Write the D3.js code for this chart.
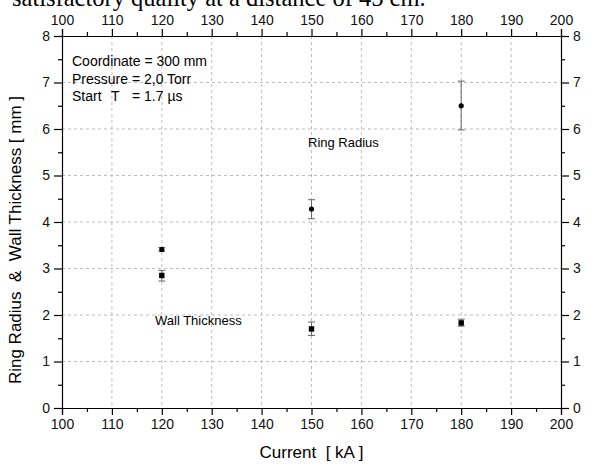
<!DOCTYPE html>
<html>
<head>
<meta charset="utf-8">
<script src="https://cdn.jsdelivr.net/npm/d3@7"></script>
<style>
  body { margin: 0; background: #fff; }
  svg text { font-family: "Liberation Sans", Arial, sans-serif; fill: #000; white-space: pre; }
</style>
</head>
<body>
<div id="chart"></div>
<script>
//Datos
const currents = [120, 150, 180];
const ringRadius = [3.41, 4.28, 6.5];
const ringLow = [3.37, 4.07, 5.98];
const ringHigh = [3.45, 4.48, 7.03];
const wallThickness = [2.85, 1.70, 1.83];
const wallLow = [2.73, 1.56, 1.76];
const wallHigh = [2.96, 1.85, 1.91];
const xTicks = [100, 110, 120, 130, 140, 150, 160, 170, 180, 190, 200];
const yTicks = [0, 1, 2, 3, 4, 5, 6, 7, 8];
const notes = ['Coordinate = 300 mm', 'Pressure = 2,0 Torr'];

const W = 592, H = 464;
let margin = {top: 36, right: 31, bottom: 56, left: 62},
    width = W - margin.left - margin.right,
    height = H - margin.top - margin.bottom;

let root = d3.select('#chart').append('svg')
    .attr('width', W)
    .attr('height', H);

//Texto recortado de la página
root.append('text')
    .attr('x', 12)
    .attr('y', 6)
    .style('font-family', '"Liberation Serif", "Times New Roman", serif')
    .style('font-size', '24.5px')
    .text('satisfactory quality at a distance of 45 cm.');

let svg = root.append('g')
    .attr('transform', 'translate(' + margin.left + ',' + margin.top + ')');

let x = d3.scaleLinear().domain([100, 200]).range([0, width]);
let y = d3.scaleLinear().domain([0, 8]).range([height, 0]);

//Rejilla
svg.append('g').selectAll('line')
    .data(xTicks.slice(1, -1))
    .enter().append('line')
    .attr('x1', d => x(d)).attr('x2', d => x(d))
    .attr('y1', 0).attr('y2', height)
    .attr('stroke', '#bdbdbd').attr('stroke-width', 1)
    .attr('stroke-dasharray', '3,3');

svg.append('g').selectAll('line')
    .data(yTicks.slice(1, -1))
    .enter().append('line')
    .attr('x1', 0).attr('x2', width)
    .attr('y1', d => y(d)).attr('y2', d => y(d))
    .attr('stroke', '#bdbdbd').attr('stroke-width', 1)
    .attr('stroke-dasharray', '3,3');

//Ejes
let xMinor = d3.range(105, 200, 10);
let yMinor = d3.range(0.5, 8, 1);

function styleAxis(g) {
    g.select('.domain').attr('stroke', '#000').attr('stroke-width', 1.2);
    g.selectAll('.tick line').attr('stroke', '#000').attr('stroke-width', 1.2);
    g.selectAll('.tick text').style('font-size', '14px').style('fill', '#111');
}
function minorAxis(g) {
    g.select('.domain').remove();
    g.selectAll('.tick text').remove();
    g.selectAll('.tick line').attr('stroke', '#000').attr('stroke-width', 1.2);
}

svg.append('g')
    .attr('transform', 'translate(0,' + height + ')')
    .call(d3.axisBottom(x).tickValues(xTicks).tickSizeOuter(0).tickSize(7).tickPadding(4))
    .call(styleAxis);
svg.append('g')
    .attr('transform', 'translate(0,' + height + ')')
    .call(d3.axisBottom(x).tickValues(xMinor).tickSize(4))
    .call(minorAxis);

svg.append('g')
    .call(d3.axisTop(x).tickValues(xTicks).tickSizeOuter(0).tickSize(7).tickPadding(4))
    .call(styleAxis);
svg.append('g')
    .call(d3.axisTop(x).tickValues(xMinor).tickSize(4))
    .call(minorAxis);

svg.append('g')
    .call(d3.axisLeft(y).tickValues(yTicks).tickSizeOuter(0).tickSize(8).tickPadding(4))
    .call(styleAxis);
svg.append('g')
    .call(d3.axisLeft(y).tickValues(yMinor).tickSize(4))
    .call(minorAxis);

svg.append('g')
    .attr('transform', 'translate(' + width + ',0)')
    .call(d3.axisRight(y).tickValues(yTicks).tickSizeOuter(0).tickSize(8).tickPadding(4))
    .call(styleAxis);
svg.append('g')
    .attr('transform', 'translate(' + width + ',0)')
    .call(d3.axisRight(y).tickValues(yMinor).tickSize(4))
    .call(minorAxis);

//Barras de error
function errorBars(lo, hi) {
    let g = svg.append('g').attr('stroke', '#666').attr('stroke-width', 1);
    currents.forEach(function(c, i) {
        g.append('line').attr('x1', x(c)).attr('x2', x(c)).attr('y1', y(lo[i])).attr('y2', y(hi[i]));
        g.append('line').attr('x1', x(c) - 3.5).attr('x2', x(c) + 3.5).attr('y1', y(lo[i])).attr('y2', y(lo[i]));
        g.append('line').attr('x1', x(c) - 3.5).attr('x2', x(c) + 3.5).attr('y1', y(hi[i])).attr('y2', y(hi[i]));
    });
}
errorBars(ringLow, ringHigh);
errorBars(wallLow, wallHigh);

//Puntos
svg.selectAll('.ring')
    .data(currents)
    .enter().append('circle')
    .attr('class', 'ring')
    .attr('cx', d => x(d))
    .attr('cy', (d, i) => y(ringRadius[i]))
    .attr('r', 2.6)
    .attr('fill', '#000');

svg.selectAll('.wall')
    .data(currents)
    .enter().append('rect')
    .attr('class', 'wall')
    .attr('x', d => x(d) - 2.7)
    .attr('y', (d, i) => y(wallThickness[i]) - 2.7)
    .attr('width', 5.4)
    .attr('height', 5.4)
    .attr('fill', '#000');

//Anotaciones
svg.selectAll('.note')
    .data(notes)
    .enter().append('text')
    .attr('x', 10)
    .attr('y', (d, i) => 30 + i * 17.5)
    .style('font-size', '14px')
    .text(d => d);

let start = svg.append('text')
    .attr('y', 30 + 2 * 17.5)
    .style('font-size', '14px');
start.append('tspan').attr('x', 10).text('Start');
start.append('tspan').attr('x', 49).text('T');
start.append('tspan').attr('x', 70).text('= 1.7 \u00b5s');

svg.append('text')
    .attr('x', 246)
    .attr('y', 111)
    .style('font-size', '13px')
    .text('Ring Radius');

svg.append('text')
    .attr('x', 93)
    .attr('y', 289)
    .style('font-size', '13px')
    .text('Wall Thickness');

//Títulos de ejes
svg.append('text')
    .attr('x', width / 2)
    .attr('y', height + 50)
    .attr('text-anchor', 'middle')
    .style('font-size', '17px')
    .text('Current  [ kA ]');

svg.append('text')
    .attr('transform', 'translate(' + (-41) + ',' + (height / 2 + 18) + ') rotate(-90)')
    .attr('text-anchor', 'middle')
    .style('font-size', '17px')
    .text('Ring Radius  &  Wall Thickness [ mm ]');
</script>
</body>
</html>
